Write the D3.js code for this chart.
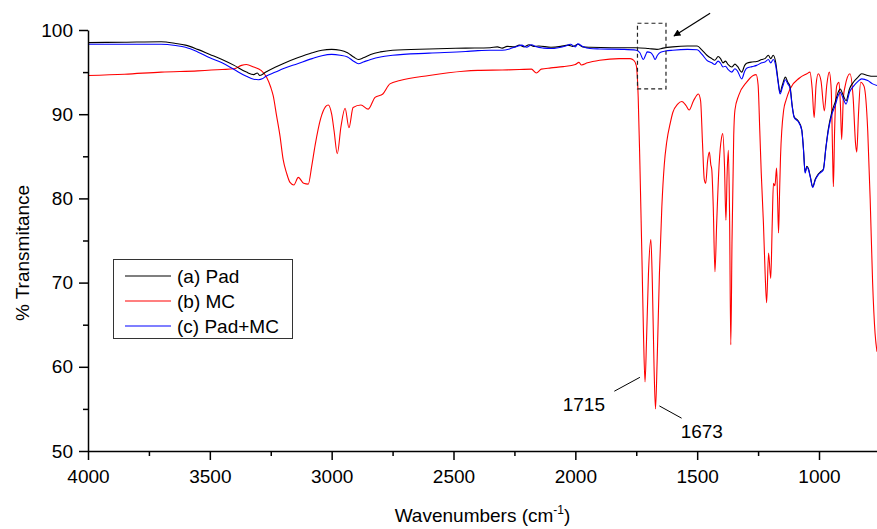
<!DOCTYPE html>
<html>
<head>
<meta charset="utf-8">
<script src="https://cdn.jsdelivr.net/npm/d3@7"></script>
<style>
  body { margin: 0; background: #fff; }
  svg text { font-family: "Liberation Sans", Arial, sans-serif; fill: #000; }
</style>
</head>
<body>
<div id="chart"></div>
<script>
// FTIR spectra: [wavenumber, %T]
const padData = [
  [4000, 98.5], [3850, 98.55], [3700, 98.6], [3640, 98.4], [3600, 98.2], [3550, 97.7],
  [3500, 97.1], [3450, 96.5], [3400, 95.8], [3350, 95.0], [3320, 94.7], [3305, 94.9],
  [3295, 94.6], [3270, 95.0], [3230, 95.6], [3200, 96.0], [3140, 96.7], [3080, 97.3],
  [3040, 97.6], [3000, 97.7], [2965, 97.6], [2935, 97.3], [2910, 96.8], [2890, 96.5],
  [2870, 96.7], [2840, 97.1], [2800, 97.4], [2750, 97.6], [2600, 97.75], [2450, 97.85],
  [2350, 97.9], [2320, 98.0], [2300, 97.85], [2280, 98.05], [2250, 98.0], [2230, 98.2],
  [2210, 98.0], [2190, 98.25], [2170, 98.05], [2150, 98.1], [2100, 97.95], [2060, 98.05],
  [2030, 98.2], [2010, 98.05], [1990, 98.3], [1970, 98.0], [1940, 97.95], [1850, 97.9],
  [1750, 97.9], [1700, 97.8], [1665, 97.7], [1640, 97.85], [1600, 98.0], [1540, 98.1],
  [1500, 98.1], [1480, 97.6], [1460, 97.0], [1440, 96.6], [1428, 96.4], [1414, 96.85],
  [1404, 96.6], [1394, 96.1], [1384, 96.3], [1373, 95.9], [1358, 95.6], [1345, 95.95],
  [1335, 95.7], [1317, 95.0], [1305, 95.8], [1297, 96.05], [1275, 96.2], [1256, 96.25],
  [1235, 96.5], [1222, 96.6], [1208, 97.0], [1198, 96.6], [1188, 97.0], [1178, 96.2],
  [1168, 94.0], [1160, 92.6], [1150, 93.5], [1138, 94.4], [1128, 93.8], [1119, 93.3],
  [1110, 91.0], [1102, 89.7], [1092, 89.4], [1085, 89.2], [1071, 88.2], [1064, 86.0],
  [1057, 83.1], [1050, 83.8], [1043, 83.5], [1035, 82.5], [1026, 81.4], [1015, 82.3],
  [1003, 82.9], [992, 83.2], [982, 83.5], [972, 86.0], [962, 88.2], [948, 90.2],
  [934, 91.4], [920, 92.7], [913, 93.0], [900, 92.2], [889, 91.6], [875, 93.0],
  [859, 93.8], [840, 94.4], [825, 94.8], [800, 94.6], [780, 94.5], [762, 94.5]
];

const mcData = [
  [4000, 94.6], [3850, 94.75], [3700, 95.0], [3550, 95.15], [3450, 95.3], [3400, 95.4],
  [3370, 95.8], [3350, 95.9], [3320, 95.6], [3290, 95.2], [3267, 94.4], [3250, 93.2],
  [3240, 92.2], [3226, 89.8], [3212, 87.4], [3199, 84.6], [3185, 83.0], [3171, 81.9],
  [3155, 81.6], [3137, 82.5], [3115, 81.8], [3096, 81.7], [3082, 83.8], [3068, 86.3],
  [3045, 89.5], [3025, 90.9], [3014, 91.1], [3000, 90.0], [2990, 88.0], [2977, 85.3],
  [2962, 88.5], [2945, 90.7], [2929, 88.4], [2912, 90.8], [2880, 91.1], [2850, 90.6],
  [2822, 92.0], [2790, 92.4], [2761, 93.6], [2720, 94.0], [2600, 94.6], [2460, 95.1],
  [2400, 95.2], [2300, 95.25], [2230, 95.3], [2180, 95.35], [2160, 94.9], [2140, 95.35],
  [2100, 95.5], [2050, 95.65], [2000, 95.9], [1985, 96.15], [1975, 95.85], [1950, 96.1],
  [1900, 96.4], [1820, 96.6], [1775, 96.6], [1760, 96.4], [1750, 95.8], [1742, 92.0],
  [1735, 84.0], [1726, 72.0], [1720, 63.5], [1714, 58.2], [1708, 63.0], [1700, 71.0],
  [1690, 75.1], [1684, 70.0], [1677, 60.0], [1671, 55.0], [1664, 61.0], [1655, 71.0],
  [1645, 79.0], [1635, 84.0], [1625, 86.7], [1610, 89.0], [1600, 90.2], [1580, 91.2],
  [1563, 91.5], [1545, 91.0], [1533, 90.5], [1515, 91.6], [1495, 92.4], [1486, 91.6],
  [1478, 86.5], [1471, 82.3], [1465, 81.8], [1457, 84.5], [1450, 85.5], [1444, 84.0],
  [1440, 83.4], [1434, 79.0], [1427, 71.3], [1420, 77.0], [1410, 84.0], [1400, 87.2],
  [1395, 87.7], [1388, 84.0], [1382, 77.4], [1377, 83.0], [1372, 85.7], [1367, 78.0],
  [1362, 62.6], [1357, 75.0], [1350, 87.5], [1345, 90.5], [1330, 92.2], [1297, 93.8],
  [1270, 94.6], [1258, 94.7], [1250, 93.5], [1243, 88.0], [1237, 83.0], [1228, 77.0],
  [1221, 71.0], [1215, 67.6], [1207, 73.5], [1198, 70.5], [1192, 77.0], [1187, 81.8],
  [1181, 81.5], [1174, 83.6], [1170, 80.0], [1166, 75.9], [1162, 80.5], [1158, 84.9],
  [1145, 90.5], [1135, 91.7], [1119, 93.0], [1080, 94.3], [1050, 94.8], [1037, 95.0],
  [1028, 93.0], [1020, 89.6], [1012, 93.5], [1003, 94.8], [992, 94.0], [978, 90.4],
  [968, 93.5], [958, 95.0], [950, 93.0], [944, 85.0], [941, 81.4], [936, 88.0],
  [927, 93.4], [918, 93.8], [912, 91.0], [907, 87.0], [900, 92.0], [893, 93.3],
  [873, 94.8], [860, 92.0], [850, 86.5], [845, 85.5], [838, 90.0], [829, 93.8],
  [815, 93.3], [800, 88.0], [790, 79.9], [780, 70.0], [770, 64.0], [762, 61.8]
];

const padMcData = [
  [4000, 98.3], [3850, 98.3], [3700, 98.3], [3640, 98.15], [3600, 97.95], [3550, 97.4],
  [3500, 96.7], [3450, 96.1], [3400, 95.3], [3350, 94.5], [3320, 94.15], [3300, 94.1],
  [3285, 94.2], [3270, 94.5], [3230, 95.0], [3200, 95.4], [3140, 96.0], [3080, 96.6],
  [3040, 96.95], [3000, 97.1], [2965, 97.0], [2935, 96.8], [2910, 96.3], [2890, 96.0],
  [2870, 96.2], [2840, 96.5], [2800, 96.8], [2750, 97.0], [2600, 97.25], [2450, 97.45],
  [2400, 97.55], [2350, 97.6], [2300, 97.6], [2270, 97.75], [2240, 98.05], [2220, 98.2],
  [2200, 97.95], [2180, 98.25], [2160, 98.0], [2130, 97.85], [2100, 97.8], [2070, 97.9],
  [2040, 98.1], [2020, 98.3], [2000, 98.0], [1990, 98.35], [1970, 98.05], [1940, 97.8],
  [1900, 97.75], [1800, 97.7], [1750, 97.6], [1735, 97.3], [1721, 96.5], [1712, 97.0],
  [1705, 97.4], [1690, 97.3], [1680, 96.9], [1673, 96.5], [1663, 97.0], [1650, 97.35],
  [1630, 97.5], [1600, 97.6], [1540, 97.7], [1500, 97.65], [1480, 97.1], [1460, 96.4],
  [1440, 96.1], [1428, 95.9], [1414, 96.3], [1404, 96.05], [1394, 95.6], [1384, 95.7],
  [1373, 95.3], [1358, 95.0], [1345, 95.4], [1335, 95.15], [1317, 94.2], [1305, 95.1],
  [1297, 95.45], [1275, 95.65], [1256, 95.8], [1235, 96.1], [1222, 96.2], [1208, 96.5],
  [1198, 96.1], [1188, 96.5], [1178, 95.8], [1168, 93.8], [1160, 92.4], [1150, 93.2],
  [1138, 94.1], [1128, 93.6], [1119, 93.1], [1110, 90.9], [1102, 89.6], [1092, 89.3],
  [1085, 89.1], [1071, 88.1], [1064, 85.9], [1057, 83.0], [1050, 83.7], [1043, 83.4],
  [1035, 82.4], [1026, 81.3], [1015, 82.2], [1003, 82.8], [992, 83.1], [982, 83.4],
  [972, 85.9], [962, 88.0], [948, 89.9], [934, 91.0], [920, 92.3], [913, 92.6],
  [900, 91.8], [889, 91.2], [875, 92.6], [859, 93.3], [840, 93.9], [825, 94.2],
  [800, 94.0], [780, 93.6], [762, 93.4]
];

const seriesNames = ["(a) Pad", "(b) MC", "(c) Pad+MC"];
const seriesColors = ["#000000", "#ff0000", "#0000ff"];

const xTicks = [4000, 3500, 3000, 2500, 2000, 1500, 1000];
const xMinorTicks = [3750, 3250, 2750, 2250, 1750, 1250, 750];
const yTicks = [50, 60, 70, 80, 90, 100];
const yMinorTicks = [55, 65, 75, 85, 95];

// peak labels: text position and leader line, in data units
const peakLabels = [
  { text: "1715", wn: 1965, t: 54.7, line: [[1840, 57.1], [1735, 58.75]] },
  { text: "1673", wn: 1481, t: 51.5, line: [[1655, 55.35], [1564, 53.9]] }
];
const markBox = { wn0: 1745, wn1: 1628, t0: 100.8, t1: 93.0 };
const markArrow = [[1447, 102.0], [1595, 99.3]];

const W = 877, H = 529;
const margin = { top: 30, right: 0, bottom: 78, left: 88 };

const svg = d3.select("#chart").append("svg")
  .attr("width", W)
  .attr("height", H);

const x = d3.scaleLinear().domain([4000, 762]).range([margin.left, W - margin.right]);
const y = d3.scaleLinear().domain([50, 100]).range([H - margin.bottom, margin.top]);

svg.append("clipPath").attr("id", "plot-clip")
  .append("rect")
  .attr("x", margin.left).attr("y", 0)
  .attr("width", W - margin.left).attr("height", H - margin.bottom);

// spectra
const line = d3.line()
  .x(d => x(d[0]))
  .y(d => y(d[1]))
  .curve(d3.curveMonotoneX);

const allSeries = [padData, mcData, padMcData];
// draw red first, then black, then blue on top
[1, 0, 2].forEach(i => {
  svg.append("path")
    .datum(allSeries[i])
    .attr("clip-path", "url(#plot-clip)")
    .attr("fill", "none")
    .attr("stroke", seriesColors[i])
    .attr("stroke-width", 1.1)
    .attr("stroke-linejoin", "round")
    .attr("d", line);
});

// axes
const fontSize = "19px";

svg.append("g")
  .attr("transform", "translate(0," + y(50) + ")")
  .call(d3.axisBottom(x).tickValues(xMinorTicks).tickSize(5).tickSizeOuter(0).tickFormat(""))
  .call(g => g.select(".domain").remove())
  .selectAll("line").attr("stroke-width", 1.5);

svg.append("g")
  .attr("class", "x-axis")
  .attr("transform", "translate(0," + y(50) + ")")
  .call(d3.axisBottom(x).tickValues(xTicks).tickSize(9).tickSizeOuter(0).tickPadding(10).tickFormat(d3.format("d")))
  .call(g => g.selectAll("line, path").attr("stroke-width", 1.5))
  .call(g => g.selectAll("text").style("font-size", fontSize).attr("font-family", null));

svg.append("g")
  .attr("transform", "translate(" + margin.left + ",0)")
  .call(d3.axisLeft(y).tickValues(yMinorTicks).tickSize(5).tickSizeOuter(0).tickFormat(""))
  .call(g => g.select(".domain").remove())
  .selectAll("line").attr("stroke-width", 1.5);

svg.append("g")
  .attr("class", "y-axis")
  .attr("transform", "translate(" + margin.left + ",0)")
  .call(d3.axisLeft(y).tickValues(yTicks).tickSize(9).tickSizeOuter(0).tickPadding(6))
  .call(g => g.selectAll("line, path").attr("stroke-width", 1.5))
  .call(g => g.selectAll("text").style("font-size", fontSize).attr("font-family", null));

// axis titles
const xTitle = svg.append("text")
  .attr("x", (margin.left + W) / 2)
  .attr("y", 522)
  .attr("text-anchor", "middle")
  .style("font-size", fontSize);
xTitle.append("tspan").text("Wavenumbers (cm");
xTitle.append("tspan").text("-1").attr("dy", -8).style("font-size", "12px");
xTitle.append("tspan").text(")").attr("dy", 8);

svg.append("text")
  .attr("transform", "translate(29,253) rotate(-90)")
  .attr("text-anchor", "middle")
  .style("font-size", fontSize)
  .text("% Transmitance");

// legend
const legend = svg.append("g").attr("class", "legend");
legend.append("rect")
  .attr("x", 113.5).attr("y", 259.5)
  .attr("width", 179).attr("height", 79)
  .attr("fill", "#fff")
  .attr("stroke", "#333")
  .attr("stroke-width", 1);

seriesNames.forEach((name, i) => {
  let ly = 276 + i * 25;
  legend.append("line")
    .attr("x1", 125).attr("x2", 171)
    .attr("y1", ly).attr("y2", ly)
    .attr("stroke", seriesColors[i])
    .attr("stroke-width", 1.1);
  legend.append("text")
    .attr("x", 177).attr("y", ly)
    .attr("dy", "0.35em")
    .style("font-size", fontSize)
    .text(name);
});

// peak annotations
peakLabels.forEach(p => {
  svg.append("line")
    .attr("x1", x(p.line[0][0])).attr("y1", y(p.line[0][1]))
    .attr("x2", x(p.line[1][0])).attr("y2", y(p.line[1][1]))
    .attr("stroke", "#000")
    .attr("stroke-width", 1);
  svg.append("text")
    .attr("x", x(p.wn)).attr("y", y(p.t))
    .attr("text-anchor", "middle")
    .style("font-size", fontSize)
    .text(p.text);
});

// dashed box around the carbonyl region of the composite
svg.append("rect")
  .attr("x", x(markBox.wn0)).attr("y", y(markBox.t0))
  .attr("width", x(markBox.wn1) - x(markBox.wn0))
  .attr("height", y(markBox.t1) - y(markBox.t0))
  .attr("fill", "none")
  .attr("stroke", "#222")
  .attr("stroke-width", 1.2)
  .attr("stroke-dasharray", "4,3");

// arrow pointing at the box
svg.append("defs").append("marker")
  .attr("id", "arrowhead")
  .attr("viewBox", "0 0 10 10")
  .attr("refX", 9).attr("refY", 5)
  .attr("markerWidth", 9).attr("markerHeight", 7)
  .attr("markerUnits", "userSpaceOnUse")
  .attr("orient", "auto")
  .append("path")
  .attr("d", "M0,0 L10,5 L0,10 z")
  .attr("fill", "#000");

svg.append("line")
  .attr("x1", x(markArrow[0][0])).attr("y1", y(markArrow[0][1]))
  .attr("x2", x(markArrow[1][0])).attr("y2", y(markArrow[1][1]))
  .attr("stroke", "#000")
  .attr("stroke-width", 1.2)
  .attr("marker-end", "url(#arrowhead)");
</script>
</body>
</html>
